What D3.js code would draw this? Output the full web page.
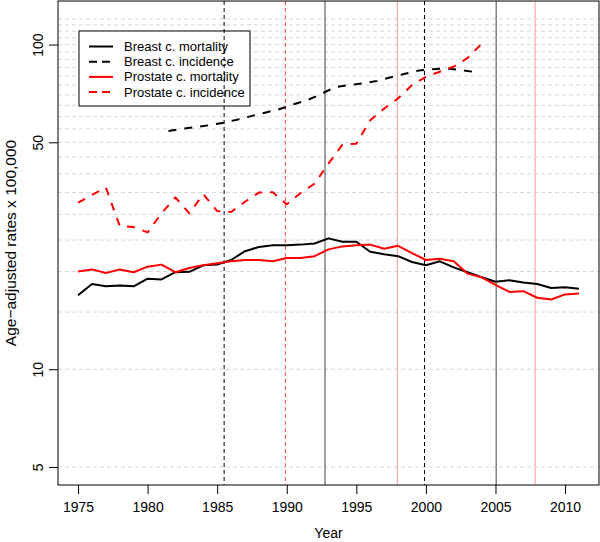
<!DOCTYPE html>
<html>
<head>
<meta charset="utf-8">
<script src="https://cdn.jsdelivr.net/npm/d3@7"></script>
<style>
  body { margin: 0; background: #fff; }
  svg { display: block; font-family: "Liberation Sans", Arial, Helvetica, sans-serif; }
</style>
</head>
<body>
<div class="canvas"></div>
<script>
//=============== Data ===========================//
const years = d3.range(1975, 2012);

const breastMort = [16.9, 18.3, 18.0, 18.1, 18.0, 19.0, 18.9, 19.9, 19.95, 20.9,
    21.0, 21.7, 23.1, 23.8, 24.1, 24.1, 24.2, 24.4, 25.3, 24.7,
    24.7, 23.0, 22.6, 22.3, 21.4, 20.9, 21.5, 20.6, 19.9, 19.2,
    18.6, 18.8, 18.5, 18.3, 17.8, 17.9, 17.7];

const prostMort = [20.0, 20.3, 19.8, 20.3, 19.9, 20.7, 21.0, 19.9, 20.5, 20.9,
    21.2, 21.5, 21.7, 21.7, 21.5, 22.0, 22.0, 22.3, 23.4, 23.9,
    24.1, 24.2, 23.5, 24.0, 22.8, 21.7, 21.9, 21.5, 19.7, 19.2,
    18.2, 17.3, 17.4, 16.6, 16.4, 17.0, 17.1];

const prostIncYears = d3.range(1975, 2005);
const prostInc = [32.6, 34.4, 36.3, 27.6, 27.4, 26.4, 30.2, 33.8, 30.2, 34.6,
    30.7, 30.5, 32.8, 35.0, 35.1, 32.2, 34.9, 37.3, 43.0, 49.2,
    49.5, 58.5, 63.5, 68.3, 75.0, 79.5, 82.5, 85.5, 91.0, 100.5];

const breastIncYears = d3.range(1981.5, 2004, 1);
const breastInc = [54.2, 55.0, 55.7, 56.5, 57.5, 58.8, 60.3, 61.8, 63.3, 65.5,
    67.5, 70.5, 74.0, 75.0, 76.0, 77.3, 79.3, 81.3, 83.2, 84.0,
    84.4, 83.5, 82.3];

// joinpoint years (vertical lines)
const breastIncJoins = [1985.5, 1999.9];
const prostIncJoins = [1989.9];
const breastMortJoins = [1992.75, 2005.05];
const prostMortJoins = [1997.95, 2007.85];

const xTicks = [1975, 1980, 1985, 1990, 1995, 2000, 2005, 2010];
const yTicks = [5, 10, 50, 100];
const gridValues = d3.range(5, 121, 5);

const legendLabels = ['Breast c. mortality', 'Breast c. incidence',
    'Prostate c. mortality', 'Prostate c. incidence'];

//=============== Set up ===========================//
const width = 600, height = 542;
const margin = { top: 1, right: 1, bottom: 57, left: 58 };
const graphWidth = width - margin.left - margin.right;
const graphHeight = height - margin.top - margin.bottom;

const svg = d3.select('.canvas')
    .append('svg')
    .attr('width', width)
    .attr('height', height);

const graph = svg.append('g')
    .attr('transform', `translate(${margin.left},${margin.top})`);

// R style 4% extension of the ranges
const x = d3.scaleLinear()
    .domain([1973.56, 2012.44])
    .range([0, graphWidth]);

const y = d3.scaleLog()
    .domain([4.40, 136.2])
    .range([graphHeight, 0]);

// grid
graph.append('g')
    .selectAll('line')
    .data(gridValues)
    .enter().append('line')
    .attr('x1', 0)
    .attr('x2', graphWidth)
    .attr('y1', d => y(d))
    .attr('y2', d => y(d))
    .attr('stroke', '#d6d6d6')
    .attr('stroke-width', 1)
    .attr('stroke-dasharray', '4,3');

// legend
const legend = graph.append('g')
    .attr('transform', 'translate(21,30)');

legend.append('rect')
    .attr('x', 0)
    .attr('y', 0)
    .attr('width', 171)
    .attr('height', 75)
    .attr('fill', '#fff')
    .attr('stroke', '#000')
    .attr('stroke-width', 1);

const legendItems = legend.selectAll('.item')
    .data(legendLabels)
    .enter().append('g')
    .attr('class', 'item')
    .attr('transform', (d, i) => `translate(0,${15.5 + i * 15.2})`);

legendItems.append('line')
    .attr('x1', 10)
    .attr('x2', 34)
    .attr('stroke', (d, i) => i < 2 ? '#000' : '#ff0000')
    .attr('stroke-width', 2)
    .attr('stroke-dasharray', (d, i) => i % 2 ? '8,5' : null);

legendItems.append('text')
    .attr('x', 45)
    .attr('y', 4.5)
    .attr('font-size', 13)
    .attr('fill', '#000')
    .text(d => d);

// vertical joinpoint lines
const vlines = (vals, color, dash) => {
    graph.append('g')
        .selectAll('line')
        .data(vals)
        .enter().append('line')
        .attr('x1', d => x(d))
        .attr('x2', d => x(d))
        .attr('y1', 0)
        .attr('y2', graphHeight)
        .attr('stroke', color)
        .attr('stroke-width', 1)
        .attr('stroke-dasharray', dash);
};
vlines(breastIncJoins, '#000', '4,3');
vlines(prostIncJoins, '#ff4040', '4,3');
vlines(breastMortJoins, '#444', null);
vlines(prostMortJoins, '#ff9a9a', null);

// data lines
const line = d3.line()
    .x(d => x(d[0]))
    .y(d => y(d[1]));

const drawSeries = (xs, vals, color, dash) => {
    graph.append('path')
        .datum(xs.map((d, i) => [d, vals[i]]))
        .attr('fill', 'none')
        .attr('stroke', color)
        .attr('stroke-width', 2)
        .attr('stroke-linejoin', 'round')
        .attr('stroke-dasharray', dash)
        .attr('d', line);
};
drawSeries(breastIncYears, breastInc, '#000', '8,8');
drawSeries(prostIncYears, prostInc, '#ff0000', '8,8');
drawSeries(years, breastMort, '#000', null);
drawSeries(years, prostMort, '#ff0000', null);

// box
graph.append('rect')
    .attr('x', 0)
    .attr('y', 0)
    .attr('width', graphWidth)
    .attr('height', graphHeight)
    .attr('fill', 'none')
    .attr('stroke', '#000')
    .attr('stroke-width', 1);

// axes
const xAxis = d3.axisBottom(x)
    .tickValues(xTicks)
    .tickFormat(d3.format('d'))
    .tickSize(9)
    .tickPadding(8);

const yAxis = d3.axisLeft(y)
    .tickValues(yTicks)
    .tickFormat(d3.format('d'))
    .tickSize(9);

const xAxisGroup = graph.append('g')
    .attr('transform', `translate(0,${graphHeight})`)
    .call(xAxis);

const yAxisGroup = graph.append('g')
    .call(yAxis);

[xAxisGroup, yAxisGroup].forEach(g => {
    g.select('.domain').remove();
    g.selectAll('.tick line').attr('stroke', '#000');
    g.selectAll('text')
        .attr('font-size', 14)
        .attr('font-family', '"Liberation Sans", Arial, Helvetica, sans-serif')
        .attr('fill', '#000');
});

yAxisGroup.selectAll('text')
    .attr('transform', 'rotate(-90)')
    .attr('x', 0)
    .attr('y', -15.5)
    .attr('dy', 0)
    .attr('text-anchor', 'middle');

// axis titles
svg.append('text')
    .attr('x', margin.left + graphWidth / 2)
    .attr('y', 538)
    .attr('text-anchor', 'middle')
    .attr('font-size', 14)
    .text('Year');

svg.append('text')
    .attr('transform', `translate(16,${margin.top + graphHeight / 2}) rotate(-90)`)
    .attr('text-anchor', 'middle')
    .attr('font-size', 15.5)
    .text('Age\u2212adjusted rates x 100,000');
</script>
</body>
</html>
